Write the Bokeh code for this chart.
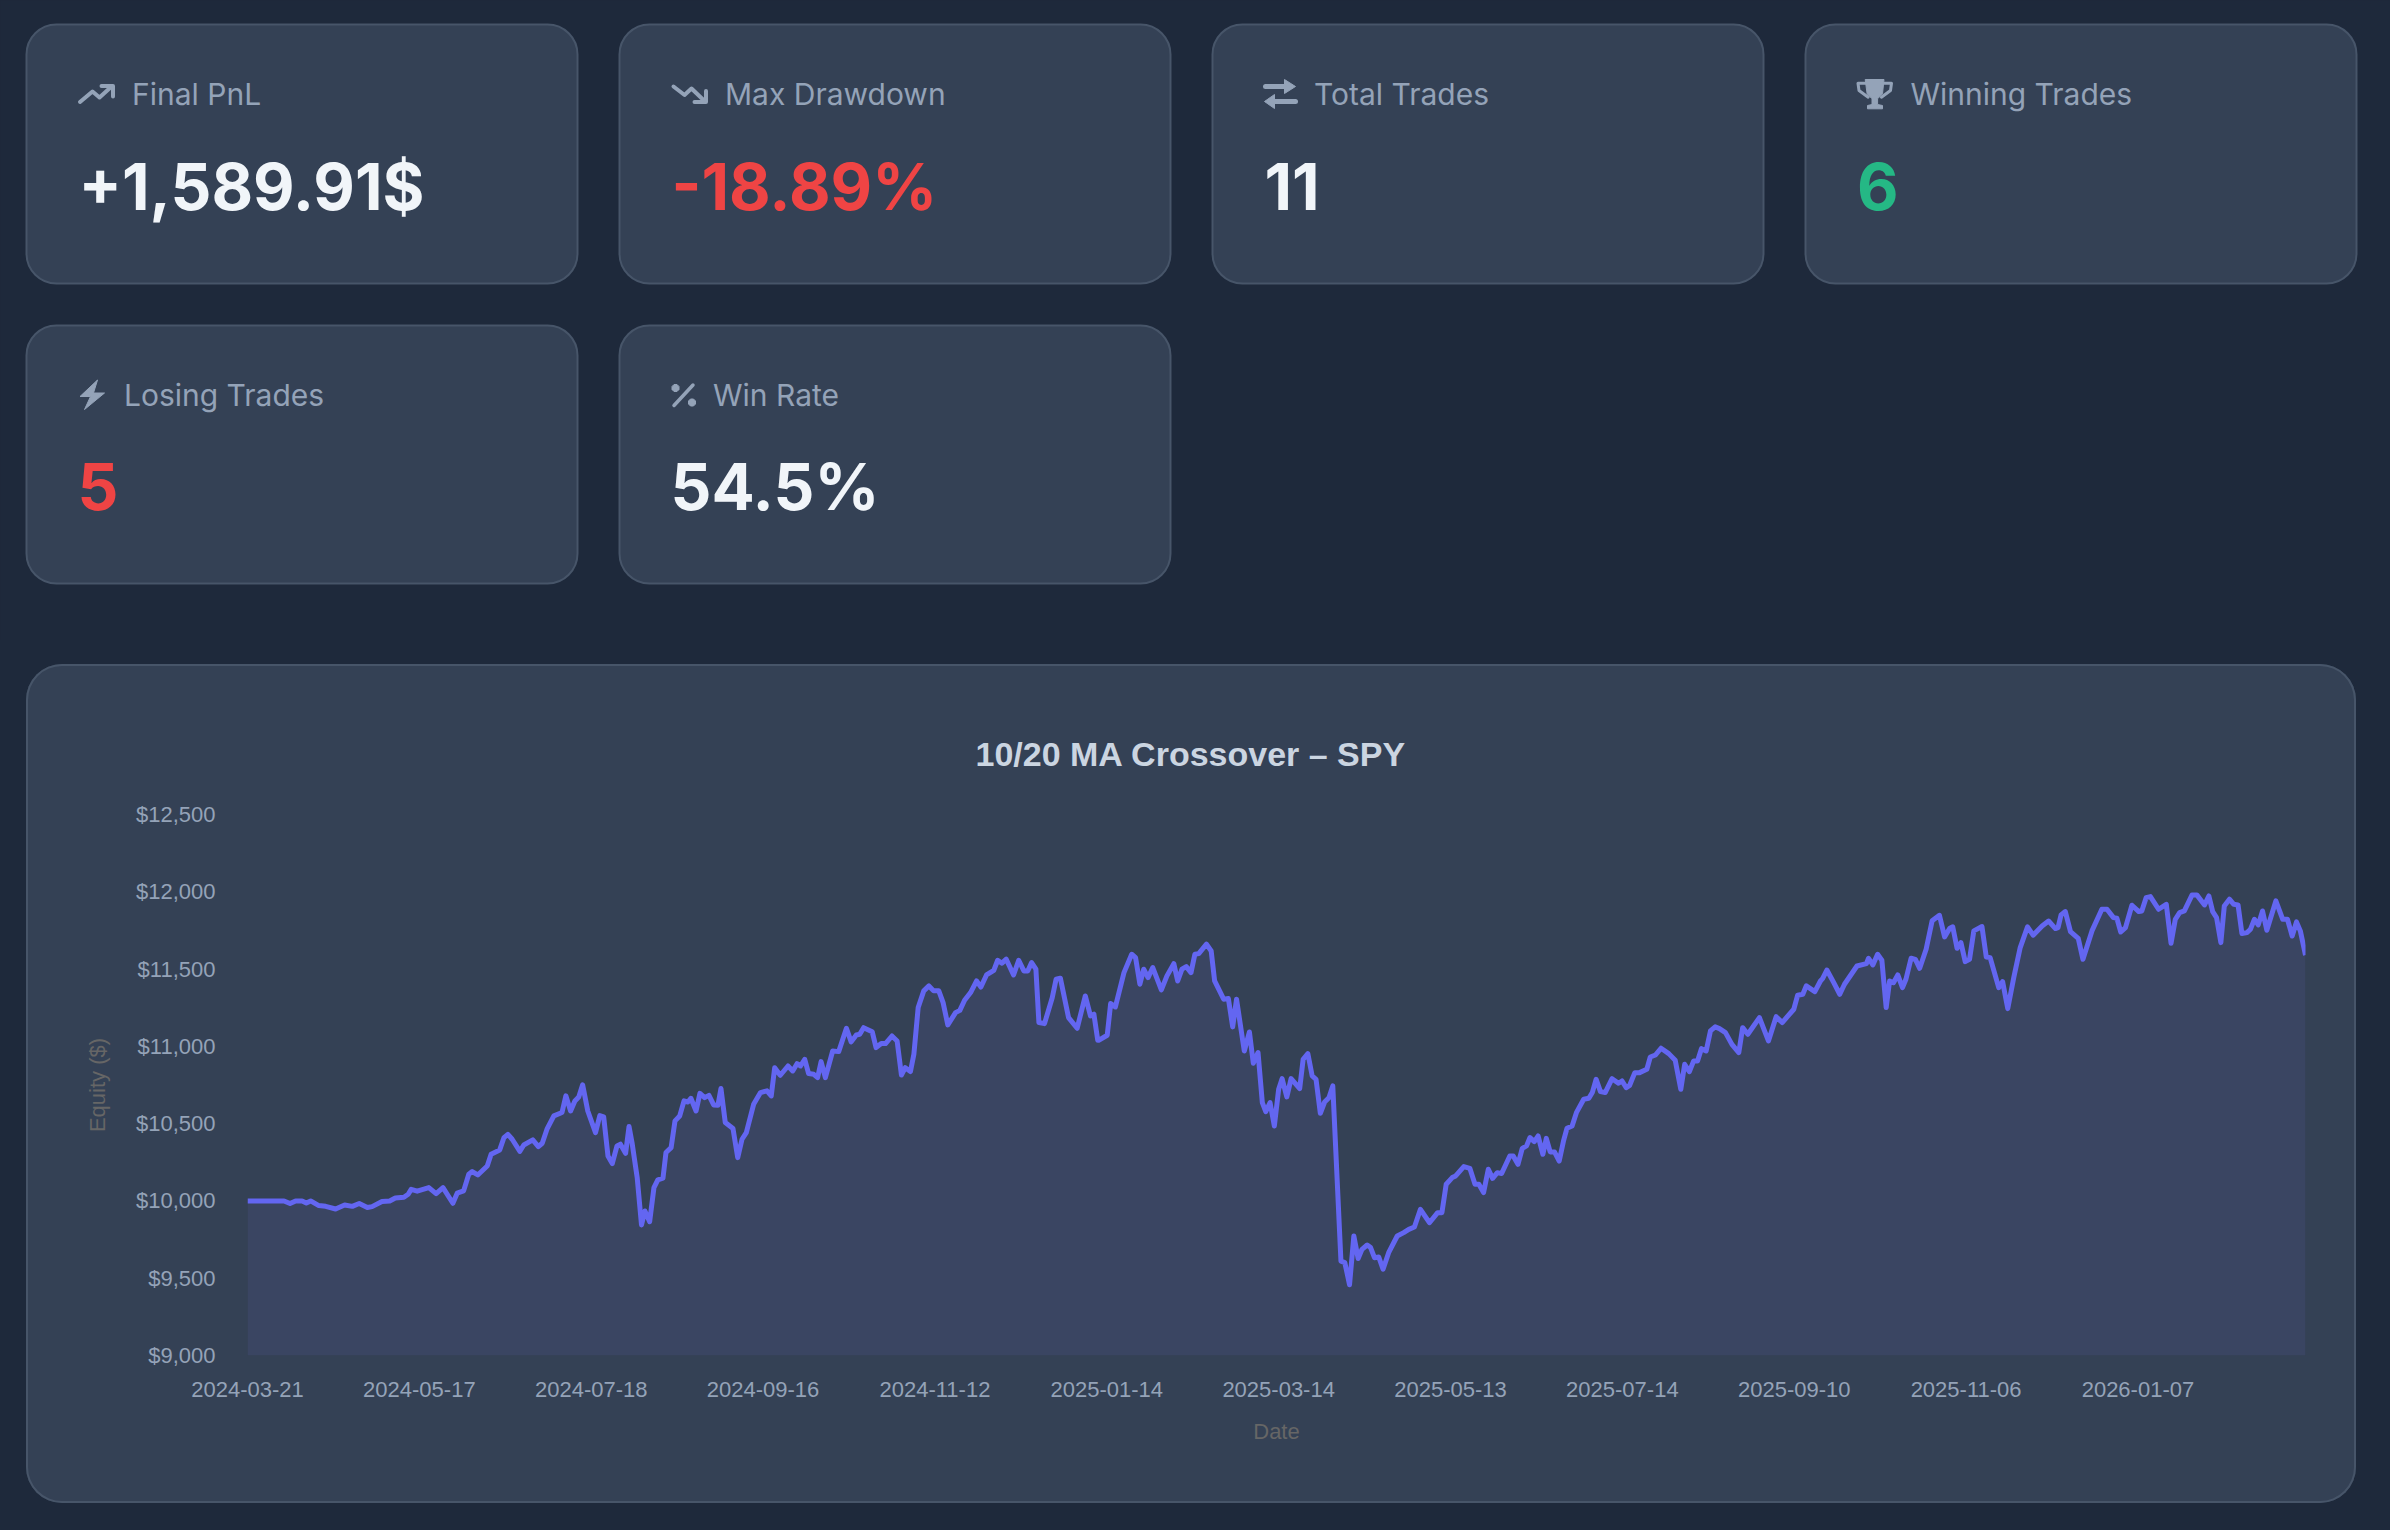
from bokeh.core.properties import value
from bokeh.embed import file_html
from bokeh.models import BoxAnnotation, FixedTicker, NumeralTickFormatter, Range1d, Title
from bokeh.plotting import figure
from bokeh.resources import INLINE

# ---- data (trading-day index, equity in $) ----
eq_idx = [0,8.5,9.9,11.2,12.7,13.7,14.7,16.6,18.2,20.5,22.6,24.4,26,27.9,29,31.3,33.1,34.4,36.4,37.4,38.1,39.5,42.2,43.9,45.5,47.8,48.8,50.3,51.5,52.3,53.6,55.8,56.7,58.7,59.7,60.6,61.6,63.4,64.3,66.4,67.7,68.6,69.7,71.3,73.2,74.1,75.2,76.2,77.1,78,79.2,81,82,82.9,83.9,84.9,86,86.8,88,88.8,89.5,90.7,91.7,92.5,93.6,94.6,95.5,96.7,97.4,98.6,99.5,100.6,101.6,102.5,
103.2,104.4,105.3,106.4,107.4,108.5,109.5,110.2,111.2,113,114.1,115.1,116.1,117.8,119.4,120.9,121.9,122.7,124,125.8,126.9,127.9,128.7,129.7,130.6,131.8,132.7,133.5,134.5,136.2,137.6,139.4,140.5,141.7,142.5,143.4,145.4,146.3,147.5,148.5,150,151.2,152.2,153.1,154.3,155.1,156.1,157.4,158.6,159.7,160.9,161.9,163,164.8,165.8,166.9,168.3,169.7,170.7,172,173.7,174.6,175.6,176.6,178.3,179.5,180.7,181.6,182.5,183.5,184.2,185.5,187.3,188.2,189.2,191.1,193.1,195,196.2,197,197.9,
198.1,200.1,200.9,202,204,205.8,206.7,207.7,208.6,209.6,210.7,212.7,214,215.6,216.5,217.5,218.5,219.6,220.5,221.4,223.2,224.3,225.1,227.2,228.3,229.3,230.2,232,233.2,234.1,235.2,236.2,237,238,239,240,240.8,241.9,242.9,244.9,245.7,246.8,247.8,248.7,249.7,250.7,251.7,252.6,254.5,255.4,256.5,257.5,258.5,259.4,260.6,261.4,262.3,263.3,264.3,265.6,267.6,269.1,270.3,271.6,273,275.1,277,278,279,280.4,281.2,283.1,284.5,285.7,286.6,287.7,288.8,289.8,290.9,291.9,293.8,294.6,295.7,296.7,297.7,298.5,299.5,300.4,301.5,302.3,
303.2,304.2,305.3,306.3,307.1,308.3,309.3,311,312.2,313,313.9,314.9,316,317.6,319.1,319.9,320.9,321.7,322.9,324,325.7,326.5,327.7,329,330.8,332.3,333.6,334.5,335.6,336.6,337.5,338.4,339.5,340.5,341.6,342.6,344,345.5,347.1,348,349.2,351.9,354,355.8,357.2,359.9,360.8,362,362.8,364.8,366.1,366.6,367.6,369.2,370.6,371.7,374.6,376.8,377.3,378.3,379.4,380.4,381.4,382.2,383.1,384.1,385.2,386,387.2,388.2,389.2,390.7,392.1,393.8,395,396.2,
396.9,397.9,398.8,399.8,400.8,401.8,403.7,404.7,405.6,407.6,408.5,409.7,411.1,412.6,414.3,415.6,417.7,419.2,420.8,421.4,422.1,423.1,424.3,426.1,427.2,429.3,431.6,432.8,434.3,435.1,436,437.1,438.6,440.2,440.9,441.9,442.9,444.8,446.6,447.7,448.7,449.7,450.8,452.6,453.7,455.5,456.5,457.4,458.3,459.3,460.1,461.3,462.3,463.3,464.2,465.4,466.2,467.1,468,469,470,472.1,473.7,474.8,475.9,476.9,477.8,479]
eq_val = [10000,10000,9983,10000,10000,9987,10000,9970,9965,9948,9974,9965,9983,9957,9963,9996,10000,10019,10024,10043,10075,10063,10086,10047,10086,9985,10050,10065,10173,10190,10168,10226,10302,10330,10410,10431,10399,10321,10362,10395,10352,10373,10464,10550,10572,10680,10582,10647,10673,10751,10582,10442,10552,10544,10291,10242,10356,10367,10308,10481,10377,10151,9845,9935,9866,10086,10136,10147,10313,10345,10518,10550,10647,10640,
10664,10582,10696,10668,10683,10621,10619,10727,10507,10468,10280,10399,10442,10625,10701,10712,10679,10862,10813,10873,10841,10888,10873,10916,10824,10819,10798,10901,10798,10970,10966,11117,11029,11074,11078,11121,11095,10992,11018,11018,11067,11035,10815,10862,10837,10949,11251,11359,11391,11359,11359,11283,11139,11218,11233,11298,11348,11423,11384,11462,11492,11557,11538,11564,11462,11557,11488,11488,11542,11499,11154,11147,11315,11434,11441,11186,11117,11326,11197,11208,11039,
11039,11072,11277,11255,11477,11596,11574,11402,11499,11445,11510,11365,11456,11535,11423,11499,11516,11477,11596,11600,11661,11617,11423,11305,11309,11126,11305,10970,11093,10891,10960,10636,10578,10636,10485,10722,10791,10673,10791,10727,10916,10953,10809,10787,10567,10640,10668,10744,9611,9601,9458,9773,9627,9687,9715,9698,9633,9637,9558,9665,9773,9795,9816,9831,9946,9859,9924,9924,10108,10151,10162,10222,10211,10108,10108,10054,10205,10146,10183,10177,10291,10291,10237,10340,10356,10410,10384,10420,10302,10405,
10317,10317,10258,10388,10470,10485,10571,10658,10664,10701,10787,10707,10701,10791,10761,10776,10733,10748,10830,10830,10852,10931,10944,10988,10953,10910,10722,10884,10837,10906,10906,10985,10970,11100,11126,11115,11089,11013,10959,11121,11078,11186,11035,11192,11154,11240,11331,11337,11391,11354,11423,11438,11494,11412,11337,11402,11520,11535,11570,11527,11596,11557,11251,11423,11412,11462,11380,11434,11570,11563,11505,11628,11812,11848,11708,11764,
11773,11635,11671,11548,11563,11747,11775,11578,11574,11380,11419,11244,11445,11639,11773,11719,11779,11811,11762,11768,11850,11872,11742,11699,11563,11747,11887,11887,11833,11829,11740,11768,11913,11872,11876,11962,11969,11887,11919,11667,11822,11865,11876,11980,11980,11915,11973,11872,11833,11671,11908,11952,11919,11915,11730,11736,11758,11822,11786,11876,11751,11941,11822,11822,11714,11805,11747,11590]
x_tick_idx = [0,40,80,120,160,200,240,280,320,360,400,440]
x_tick_labels = ["2024-03-21","2024-05-17","2024-07-18","2024-09-16","2024-11-12","2025-01-14","2025-03-14","2025-05-13","2025-07-14","2025-09-10","2025-11-06","2026-01-07"]
y_ticks = [9000,9500,10000,10500,11000,11500,12000,12500]
chart_title = "10/20 MA Crossover – SPY"
card_labels = ["Final PnL","Max Drawdown","Total Trades","Winning Trades","Losing Trades","Win Rate"]
card_values = ["+1,589.91$","-18.89%","11","6","5","54.5%"]

# ---- styling ----
PAGE="#1e293b"; CARD="#344155"; EDGE="#475569"; MUTED="#94a3b8"; WHITE="#f1f5f9"; RED="#ef4444"; GREEN="#25b885"; LINE="#6366f1"; AREA="#3a4562"
value_colors=[WHITE,RED,WHITE,GREEN,RED,WHITE]

# ---- top figure: the stat cards, its frame is the whole area, data units are pixels ----
TOP_H=640
top=figure(width=2390,height=TOP_H,output_backend="svg",toolbar_location=None,
           x_range=Range1d(0,2390),y_range=Range1d(TOP_H,0),x_axis_location=None,y_axis_location=None,
           min_border=0,background_fill_color=PAGE,border_fill_color=PAGE,outline_line_color=None)
top.grid.visible=False

def card(l,t,r,b,rad):
    top.add_layout(BoxAnnotation(left=l,right=r,top=t,bottom=b,fill_color=CARD,fill_alpha=1,line_color=EDGE,line_alpha=1,line_width=2,border_radius=rad,level="underlay"))
def poly(pts):
    top.patch([a for a,_ in pts],[b for _,b in pts],fill_color=MUTED,line_color=MUTED,line_width=1)
def stroke(pts,w=4):
    top.line([a for a,_ in pts],[b for _,b in pts],line_color=MUTED,line_width=w,line_join="round",line_cap="round")

card_boxes=[(26,24,577,283),(619,24,1170,283),(1212,24,1763,283),(1805,24,2356,283),(26,325,577,583),(619,325,1170,583)]
for b in card_boxes: card(*b,30)
label_x=[131.5,724.5,1313.5,1910,123.5,712.5]
label_y=[93.5,93.5,93.5,93.5,394,394]
value_x=[78,671,1264,1856.5,77,670]
value_y=[186,186,186,186,486,486]
top.text(x=label_x,y=label_y,text=card_labels,text_font=value("Inter"),text_font_size="30px",text_color=MUTED,text_baseline="alphabetic",text_align="left")
top.text(x=value_x,y=value_y,text=card_values,text_font=value("Inter"),text_font_size="64px",text_font_style="bold",text_color=value_colors,text_baseline="alphabetic",text_align="left")

# icons
stroke([(79.5,101.5),(92,91),(99,97),(110.5,86.5)]); stroke([(101,85.5),(112.5,85.5),(112.5,96)])
stroke([(673,86),(684,94.5),(691,88),(703.5,100)]); stroke([(705.5,90.5),(705.5,101.5),(694,101.5)])
stroke([(1265,86),(1290,86)],5); poly([(1284,79),(1295,86),(1284,93)])
stroke([(1270,101),(1295,101)],5); poly([(1274,94),(1264,101),(1274,108)])
poly([(1864.7,79),(1883.5,79),(1882,93.3),(1877.1,98.3),(1877.1,104),(1882,105),(1882,108.3),(1867,108.3),(1867,105),(1871.5,104),(1871.5,98.3),(1866.6,93.3)])
stroke([(1865,82.7),(1857.5,82.7),(1858.5,90),(1867.7,96.7)],3); stroke([(1883.5,82.7),(1891,82.7),(1890,90),(1880.9,96.7)],3)
poly([(97,379.5),(79.5,396),(90,396),(84,409),(104,392.5),(93,392.5)])
stroke([(692.5,384.5),(673.5,405)],3.5)
for cx,cy in [(675,387.5),(691.5,402)]:
    poly([(cx-3.5,cy-1.5),(cx-1.5,cy-3.5),(cx+1.5,cy-3.5),(cx+3.5,cy-1.5),(cx+3.5,cy+1.5),(cx+1.5,cy+3.5),(cx-1.5,cy+3.5),(cx-3.5,cy+1.5)])

# ---- chart figure: it is the card itself ----
CL,CT,CR,CB=26,664,2356,1503
FL,FT,FR,FB=247,814,2305,1355
p=figure(width=CR-CL,height=CB-CT,output_backend="svg",toolbar_location=None,
         x_range=Range1d(0,479),y_range=Range1d(9000,12500),
         min_border_left=FL-CL,min_border_right=CR-FR,min_border_top=FT-CT,min_border_bottom=CB-FB,
         background_fill_alpha=0,border_fill_alpha=0,outline_line_color=None,
         margin=(CT-TOP_H,0,0,CL),
         styles={"background":CARD,"border-radius":"36px","box-shadow":"inset 0 0 0 2px "+EDGE})
p.grid.visible=False
p.title=Title(text=chart_title,align="left",offset=728,standoff=84,text_font="Liberation Sans",text_font_size="34px",text_font_style="bold",text_color="#cbd5e1")
for ax in (p.xaxis[0],p.yaxis[0]):
    ax.axis_line_color=None; ax.major_tick_line_color=None; ax.minor_tick_line_color=None
    ax.major_tick_in=0; ax.major_tick_out=0; ax.minor_tick_out=0
    ax.major_label_text_font="Liberation Sans"; ax.major_label_text_font_size="22px"; ax.major_label_text_color=MUTED
    ax.axis_label_text_font="Liberation Sans"; ax.axis_label_text_font_size="22px"; ax.axis_label_text_color="#666666"; ax.axis_label_text_font_style="normal"
p.xaxis[0].ticker=FixedTicker(ticks=x_tick_idx)
p.xaxis[0].major_label_overrides=dict(zip(x_tick_idx,x_tick_labels))
p.xaxis[0].axis_label="Date"; p.xaxis[0].major_label_standoff=26; p.xaxis[0].axis_label_standoff=19
p.yaxis[0].ticker=FixedTicker(ticks=y_ticks)
p.yaxis[0].formatter=NumeralTickFormatter(format="$0,0")
p.yaxis[0].axis_label="Equity ($)"; p.yaxis[0].major_label_standoff=32; p.yaxis[0].axis_label_standoff=23

p.varea(x=eq_idx,y1=[y_ticks[0]]*len(eq_val),y2=eq_val,fill_color=AREA)
p.line(x=eq_idx,y=eq_val,line_color=LINE,line_width=5,line_join="round")

html=file_html([top,p],INLINE,title="Backtest")
html=html.replace("<head>","<head><style>html,body{background:#1e293b}</style>",1)
open("out.html","w").write(html)
